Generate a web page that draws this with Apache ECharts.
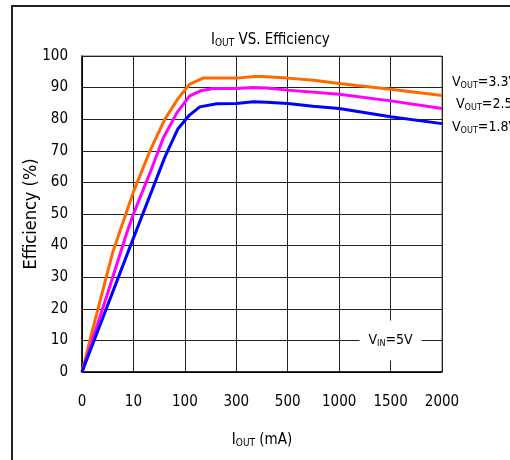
<!DOCTYPE html>
<html>
<head>
<meta charset="utf-8">
<script src="https://cdn.jsdelivr.net/npm/echarts@6/dist/echarts.min.js"></script>
<style>
  html, body { margin: 0; padding: 0; background: #fff; }
  #main { width: 510px; height: 460px; }
</style>
</head>
<body>
<div id="main"></div>
<script>
// x axis ticks (mA), evenly spaced on the chart
const xTicks = [0, 10, 100, 300, 500, 1000, 1500, 2000];
const yTicks = [0, 10, 20, 30, 40, 50, 60, 70, 80, 90, 100];

// VOUT = 3.3V
const iout33 = [0, 2, 6, 10, 39, 65, 88, 118, 170, 300, 370, 400, 500, 750, 1000, 1500, 2000];
const eff33  = [0, 13, 38, 57, 70, 80, 86.5, 91, 93, 93, 93.5, 93.5, 93, 92.3, 91.3, 89.5, 87.5];
// VOUT = 2.5V
const iout25 = [0, 5, 8.7, 10, 39, 62, 86, 118, 158, 210, 300, 366, 418, 500, 1000, 1500, 2000];
const eff25  = [0, 25, 44, 50, 63, 74, 82, 87.3, 88.9, 89.7, 89.7, 90, 89.9, 89.2, 87.9, 85.8, 83.4];
// VOUT = 1.8V
const iout18 = [0, 9.6, 65, 88, 118, 158, 224, 300, 366, 418, 500, 745, 1000, 1500, 2000];
const eff18  = [0, 40.7, 68, 77, 81.3, 83.9, 84.9, 85, 85.5, 85.4, 85, 84.1, 83.4, 80.8, 78.6];

const FONT = '"DejaVu Sans Condensed", "Liberation Sans Narrow", "Liberation Sans", Arial, sans-serif';

// piecewise linear position along the evenly spaced ticks
function toPos(mA) {
    for (let i = 1; i < xTicks.length; i++) {
        if (mA <= xTicks[i]) {
            return i - 1 + (mA - xTicks[i - 1]) / (xTicks[i] - xTicks[i - 1]);
        }
    }
    return xTicks.length - 1;
}
function pairs(xs, ys) {
    return xs.map((x, i) => [toPos(x), ys[i]]);
}

const rich = {
    v: { fontFamily: FONT, fontSize: 14, color: '#000', lineHeight: 20, verticalAlign: 'middle' },
    s: { fontFamily: FONT, fontSize: 9, color: '#000', lineHeight: 20, verticalAlign: 'bottom', padding: [0, 0, 2, 0] },
    t: { fontFamily: FONT, fontSize: 15, color: '#000', lineHeight: 20, verticalAlign: 'middle' },
    ts: { fontFamily: FONT, fontSize: 10, color: '#000', lineHeight: 20, verticalAlign: 'bottom', padding: [0, 0, 2, 0] }
};

function lineSeries(name, data, color, label, offset) {
    return {
        name: name,
        type: 'line',
        data: data,
        showSymbol: false,
        smooth: false,
        lineStyle: { color: color, width: 3 },
        itemStyle: { color: color },
        endLabel: {
            show: true,
            formatter: label,
            offset: offset,
            rich: rich
        },
        z: 3
    };
}

const myChart = echarts.init(document.getElementById('main'));

const option = {
    animation: false,
    title: {
        text: '{t|I}{ts|OUT}{t| VS. Efficiency}',
        left: 206,
        top: 25,
        textStyle: { fontWeight: 'normal', rich: rich }
    },
    grid: { left: 82, right: 68, top: 56, bottom: 88, show: true, borderColor: '#666', borderWidth: 1 },
    xAxis: {
        type: 'value',
        min: 0,
        max: xTicks.length - 1,
        interval: 1,
        name: '{t|I}{ts|OUT}{t| (mA)}',
        nameLocation: 'middle',
        nameGap: 58,
        nameMoveOverlap: false,
        nameTextStyle: { rich: rich },
        axisLine: { show: true, lineStyle: { color: '#000', width: 1.5 } },
        axisTick: { show: false },
        axisLabel: {
            margin: 23,
            fontFamily: FONT,
            fontSize: 15,
            color: '#000',
            formatter: v => xTicks[v]
        },
        splitLine: { show: true, lineStyle: { color: '#222', width: 1 } }
    },
    yAxis: {
        type: 'value',
        min: 0,
        max: 100,
        interval: 10,
        name: 'Efficiency (%)',
        nameLocation: 'middle',
        nameGap: 42,
        nameMoveOverlap: false,
        nameTextStyle: { fontFamily: FONT, fontSize: 18, color: '#000' },
        axisLine: { show: true, lineStyle: { color: '#000', width: 1.5 } },
        axisTick: { show: false },
        axisLabel: {
            margin: 14,
            fontFamily: FONT,
            fontSize: 15,
            color: '#000',
            formatter: v => yTicks.indexOf(v) >= 0 ? v : ''
        },
        splitLine: { show: true, lineStyle: { color: '#222', width: 1 } }
    },
    graphic: [
        {
            type: 'rect',
            shape: { x: 12, y: 6, width: 700, height: 700 },
            style: { fill: null, stroke: '#222', lineWidth: 2 },
            silent: true
        }
    ],
    series: [
        lineSeries('3.3V', pairs(iout33, eff33), '#ff6a00', '{v|V}{s|OUT}{v|=3.3V}', [2, -13]),
        lineSeries('2.5V', pairs(iout25, eff25), '#ff00ff', '{v|V}{s|OUT}{v|=2.5V}', [6, -4]),
        lineSeries('1.8V', pairs(iout18, eff18), '#0000ff', '{v|V}{s|OUT}{v|=1.8V}', [2, 4]),
        {
            type: 'scatter',
            data: [],
            markPoint: {
                silent: true,
                symbol: 'rect',
                symbolSize: [62, 40],
                itemStyle: { color: '#fff' },
                label: {
                    show: true,
                    formatter: '{v|V}{s|IN}{v|=5V}',
                    rich: rich
                },
                data: [{ coord: [toPos(1500), 10] }]
            },
            z: 4
        }
    ]
};

myChart.setOption(option);
</script>
</body>
</html>
